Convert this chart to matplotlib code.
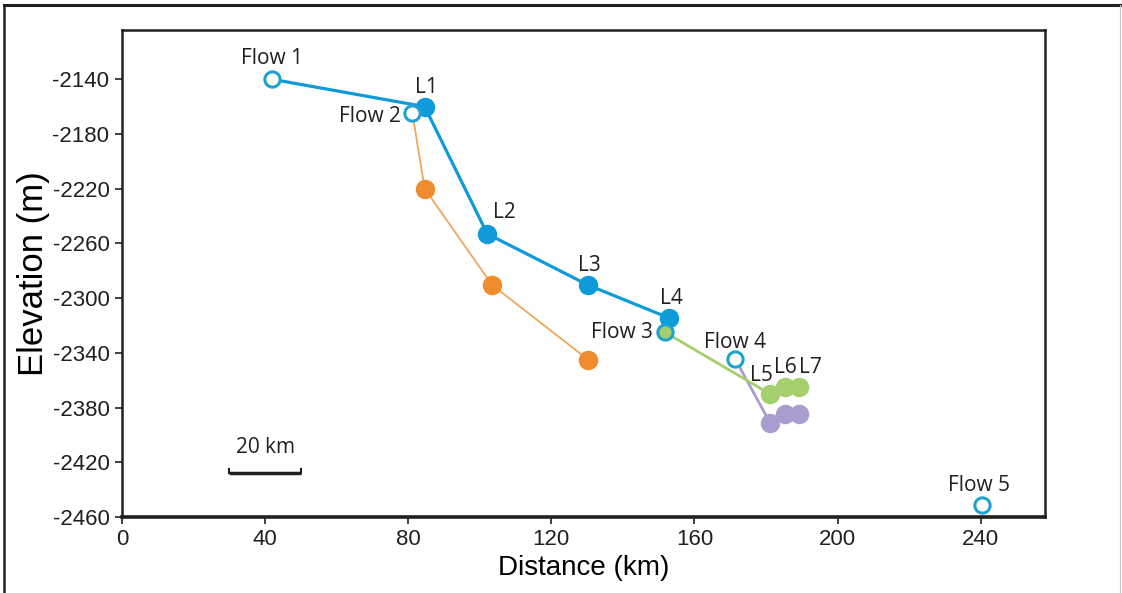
import matplotlib
matplotlib.use("Agg")
import matplotlib.pyplot as plt
from matplotlib.lines import Line2D

# Lava flow profile: distance along track (km) vs elevation (m)
flow_names = ["Flow 1", "Flow 2", "Flow 3", "Flow 4", "Flow 5"]
flow_x = [41.9, 81.2, 151.8, 171.4, 240.3]
flow_y = [-2140, -2165, -2325, -2344.5, -2451]

# Main (blue) lobe sequence from Flow 1
blue_names = ["L1", "L2", "L3", "L4"]
blue_x = [84.6, 102.1, 130.3, 152.9]
blue_y = [-2160, -2253, -2290.5, -2314.5]

# Orange sequence from Flow 2
orange_x = [84.6, 103.5, 130.3]
orange_y = [-2220, -2290.5, -2345]

# Green lobes from Flow 3 and purple lobes from Flow 4
lobe_names = ["L5", "L6", "L7"]
lobe_x = [181.1, 185.3, 189.2]
green_y = [-2370, -2365, -2365]
purple_y = [-2391, -2384.5, -2384.5]

x_ticks = [0, 40, 80, 120, 160, 200, 240]
y_ticks = [-2460, -2420, -2380, -2340, -2300, -2260, -2220, -2180, -2140]

BLUE = "#0f9bd9"
BLUE_RING = "#1ea2d2"
ORANGE = "#f08b2e"
ORANGE_LINE = "#f0a55c"
GREEN = "#a5cf6c"
PURPLE = "#a99ccf"
INK = "#231f20"

label_font = ["Open Sans", "DejaVu Sans"]
tick_font = ["Liberation Sans", "DejaVu Sans"]

fig = plt.figure(figsize=(11.22, 5.93), dpi=100)
ax = fig.add_axes([0.1087, 0.1282, 0.8227, 0.8212])

ms = 13
# purple lobes
ax.plot([flow_x[3], lobe_x[0]], [flow_y[3], purple_y[0]], color=PURPLE, lw=2.0, zorder=2)
ax.plot(lobe_x, purple_y, "o", color=PURPLE, ms=ms, zorder=3)
# green lobes
ax.plot([flow_x[2], lobe_x[0]], [flow_y[2], green_y[0]], color=GREEN, lw=2.0, zorder=2)
ax.plot(lobe_x, green_y, "o", color=GREEN, ms=ms, zorder=3)
# orange sequence
ax.plot([flow_x[1]] + orange_x, [flow_y[1]] + orange_y, color=ORANGE_LINE, lw=1.3, zorder=2)
ax.plot(orange_x, orange_y, "o", color=ORANGE, ms=ms, zorder=3)
# blue sequence
ax.plot([flow_x[0]] + blue_x, [flow_y[0]] + blue_y, color=BLUE, lw=2.3, zorder=2)
ax.plot(blue_x, blue_y, "o", color=BLUE, ms=ms, zorder=4)

# flow sources (open rings); Flow 3 sits on the start of the green lobe
faces = ["white", "white", GREEN, "white", "white"]
for fx, fy, fc in zip(flow_x, flow_y, faces):
    ax.plot(fx, fy, "o", ms=11, mfc=fc, mec=BLUE_RING, mew=2.2, zorder=5)

# text labels, offsets in points from each mark
flow_off = [(0, 15), (-8, -2), (-9, 0), (0, 12), (-2, 14)]
flow_ha = ["center", "right", "right", "center", "center"]
for name, fx, fy, off, ha in zip(flow_names, flow_x, flow_y, flow_off, flow_ha):
    ax.annotate(name, (fx, fy), xytext=off, textcoords="offset points",
                ha=ha, va="center", fontsize=15, family=label_font, color=INK)

blue_off = [(1, 14), (12, 15), (1, 14), (2, 14)]
for name, bx, by, off in zip(blue_names, blue_x, blue_y, blue_off):
    ax.annotate(name, (bx, by), xytext=off, textcoords="offset points",
                ha="center", va="center", fontsize=15, family=label_font, color=INK)

lobe_off = [(-6, 13), (0, 14), (8, 14)]
for name, lx, ly, off in zip(lobe_names, lobe_x, green_y, lobe_off):
    ax.annotate(name, (lx, ly), xytext=off, textcoords="offset points",
                ha="center", va="center", fontsize=15, family=label_font, color=INK)

# 20 km scale bar
bar_x = [30, 50]
bar_y = -2427.5
ax.plot(bar_x, [bar_y, bar_y], color=INK, lw=2.5, solid_capstyle="butt", zorder=3)
for bx in bar_x:
    ax.plot([bx, bx], [bar_y, bar_y + 2.5], color=INK, lw=1.5, zorder=3)
ax.text(sum(bar_x) / 2, -2409, "20 km", ha="center", va="center",
        fontsize=15, family=label_font, color=INK)

ax.set_xlim(0, 258)
ax.set_ylim(-2460, -2104)
ax.set_xticks(x_ticks)
ax.set_yticks(y_ticks)
ax.set_xticklabels([str(v) for v in x_ticks], family=tick_font, fontsize=16)
ax.set_yticklabels([str(v) for v in y_ticks], family=tick_font, fontsize=16)
ax.tick_params(direction="out", length=5, width=1.2, pad=4, colors=INK)
for s in ax.spines.values():
    s.set_linewidth(1.8)
    s.set_color(INK)
ax.spines["bottom"].set_linewidth(2.6)

ax.set_xlabel("Distance (km)", fontsize=20, family=["Liberation Sans", "DejaVu Sans"], labelpad=3)
ax.set_ylabel("Elevation (m)", fontsize=25, family=["Liberation Sans", "DejaVu Sans"], labelpad=2)

# outer frame around the figure
fig.add_artist(Line2D([0.004, 1.0], [0.991, 0.991], color=INK, lw=2.2, transform=fig.transFigure))
fig.add_artist(Line2D([0.004, 0.004], [0.0, 0.991], color=INK, lw=1.8, transform=fig.transFigure))
fig.add_artist(Line2D([0.998, 0.998], [0.0, 0.991], color="#c8c8c8", lw=0.8, transform=fig.transFigure))

fig.savefig("out.png", dpi=100)
